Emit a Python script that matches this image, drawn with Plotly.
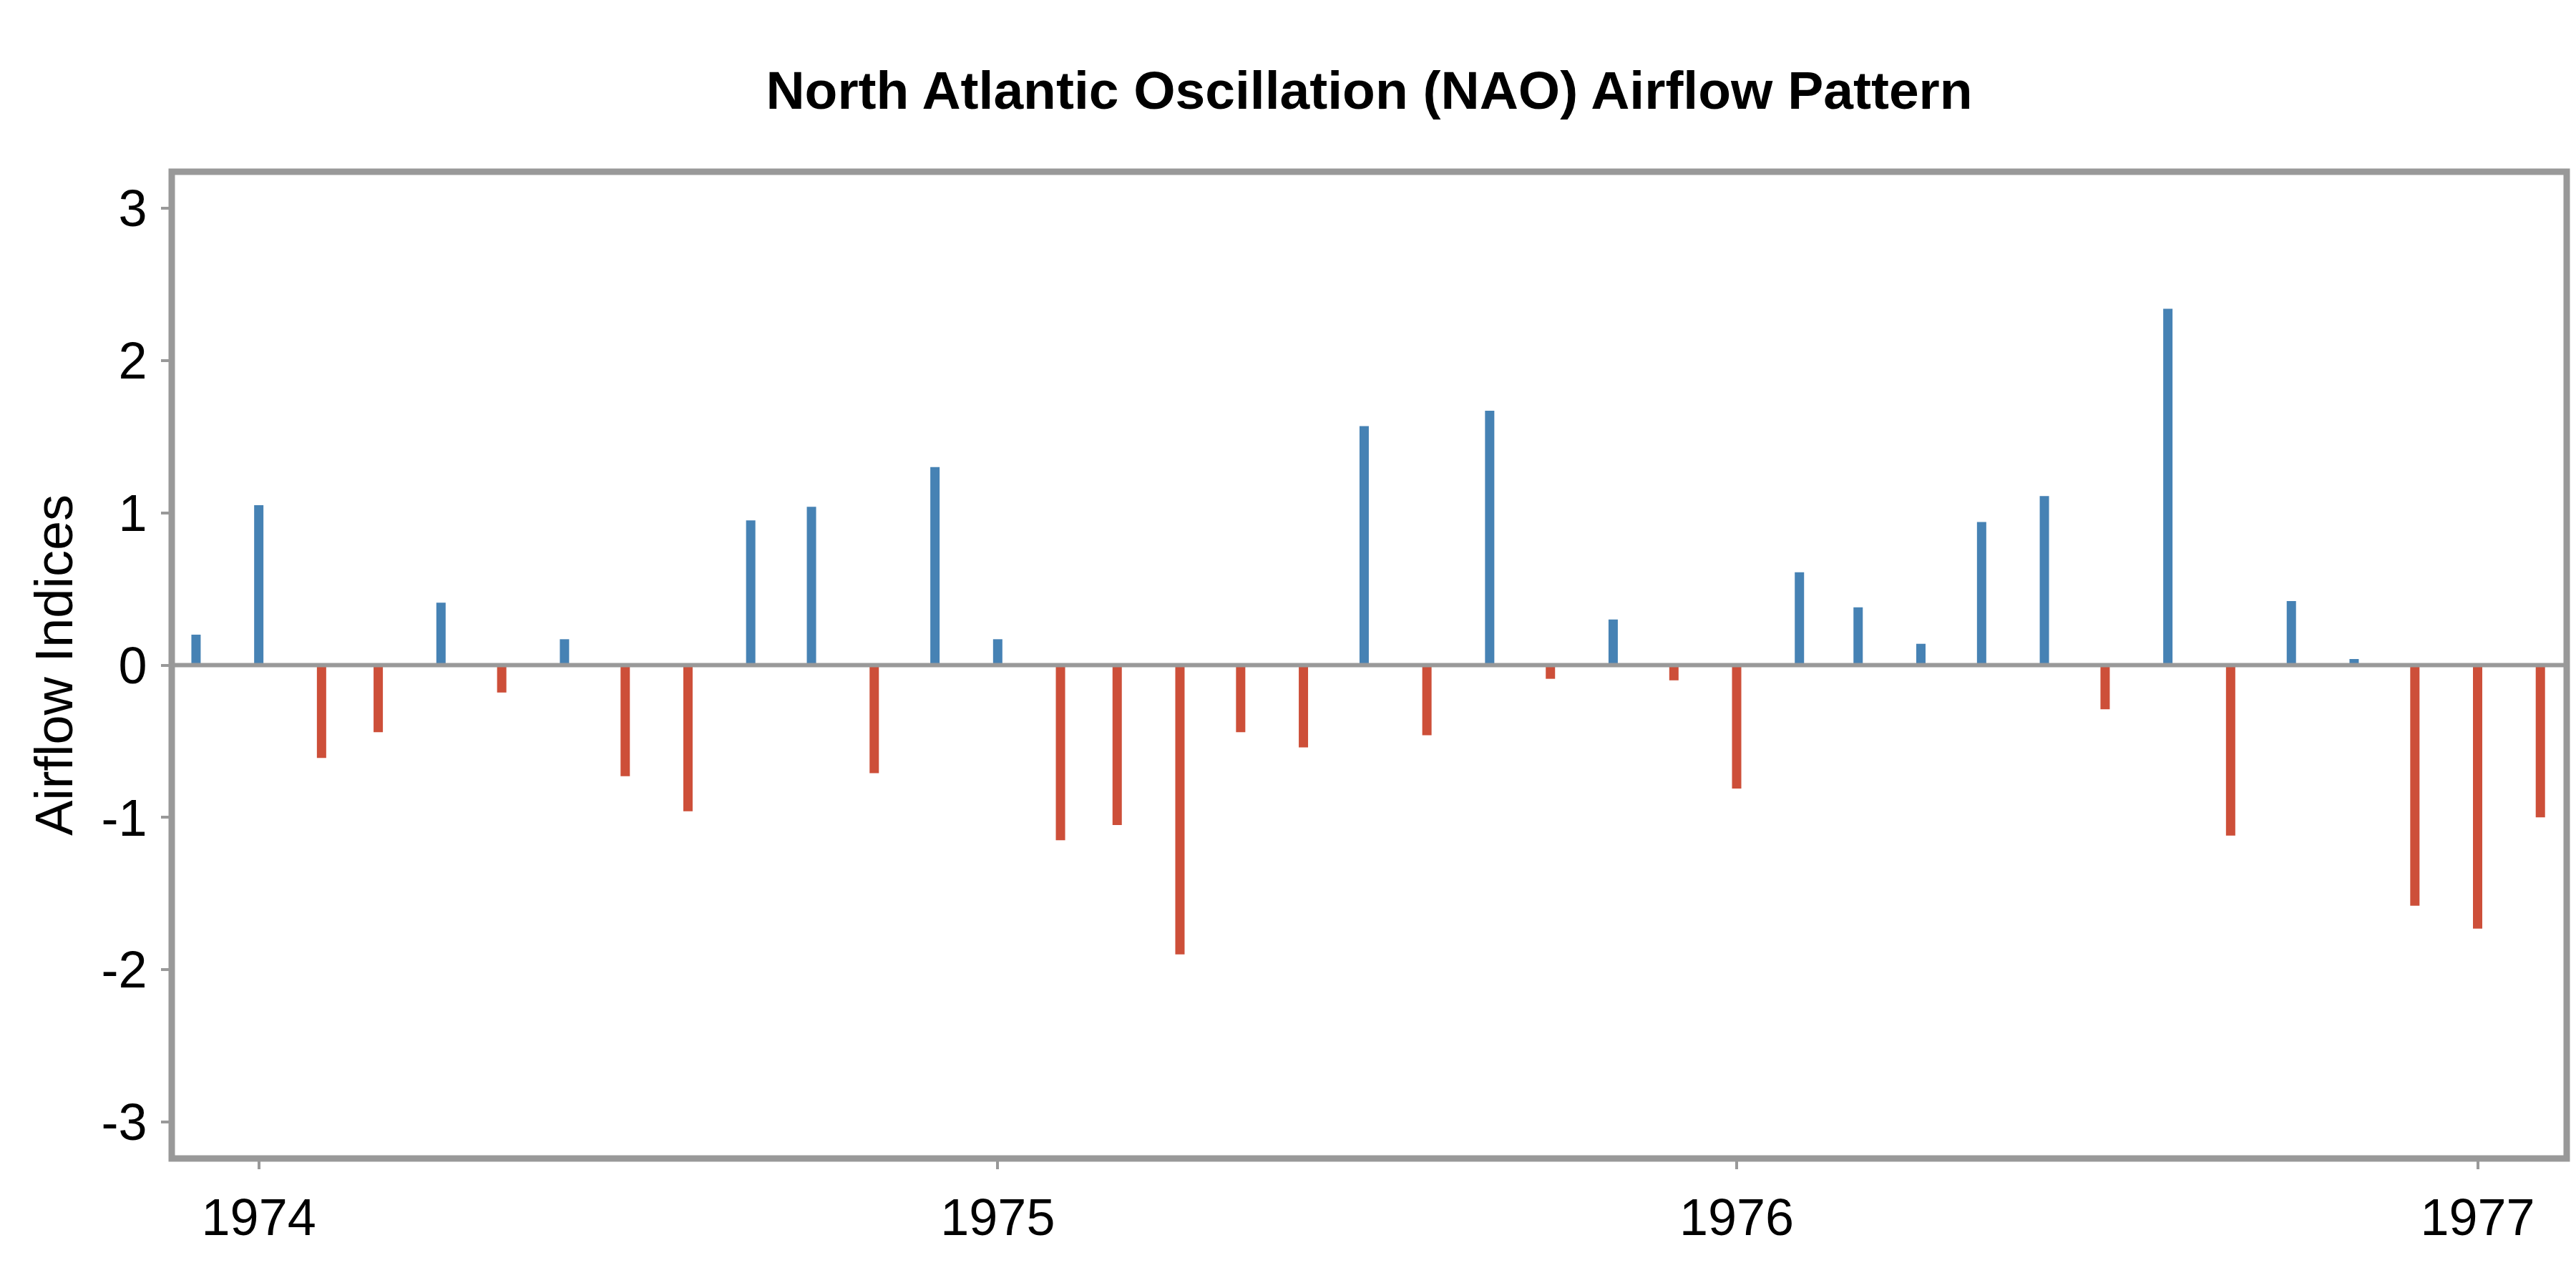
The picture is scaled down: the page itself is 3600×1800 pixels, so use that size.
import plotly.graph_objects as go

# ---- data ----
months = [
    "1973-12-01",
    "1974-01-01", "1974-02-01", "1974-03-01", "1974-04-01", "1974-05-01", "1974-06-01",
    "1974-07-01", "1974-08-01", "1974-09-01", "1974-10-01", "1974-11-01", "1974-12-01",
    "1975-01-01", "1975-02-01", "1975-03-01", "1975-04-01", "1975-05-01", "1975-06-01",
    "1975-07-01", "1975-08-01", "1975-09-01", "1975-10-01", "1975-11-01", "1975-12-01",
    "1976-01-01", "1976-02-01", "1976-03-01", "1976-04-01", "1976-05-01", "1976-06-01",
    "1976-07-01", "1976-08-01", "1976-09-01", "1976-10-01", "1976-11-01", "1976-12-01",
    "1977-01-01", "1977-02-01",
]
nao_values = [
    0.20,
    1.05, -0.61, -0.44, 0.41, -0.18, 0.17,
    -0.73, -0.96, 0.95, 1.04, -0.71, 1.30,
    0.17, -1.15, -1.05, -1.90, -0.44, -0.54,
    1.57, -0.46, 1.67, -0.09, 0.30, -0.10,
    -0.81, 0.61, 0.38, 0.14, 0.94, 1.11,
    -0.29, 2.34, -1.12, 0.42, 0.04, -1.58,
    -1.73, -1.00,
]
x_tick_vals = ["1974-01-01", "1975-01-01", "1976-01-01", "1977-01-01"]
x_tick_text = ["1974", "1975", "1976", "1977"]
y_tick_vals = [-3, -2, -1, 0, 1, 2, 3]
y_tick_text = ["-3", "-2", "-1", "0", "1", "2", "3"]

POS_COLOR = "#4682B4"
NEG_COLOR = "#CD4F39"
FRAME = "#999999"
FONT = "Liberation Sans, Arial, sans-serif"


def stems(sign):
    xs, ys = [], []
    for m, v in zip(months, nao_values):
        if (v >= 0) == (sign > 0):
            xs += [m, m, None]
            ys += [0, v, None]
    return xs, ys


fig = go.Figure()
for sign, color in ((1, POS_COLOR), (-1, NEG_COLOR)):
    xs, ys = stems(sign)
    fig.add_trace(go.Scatter(x=xs, y=ys, mode="lines",
                             line=dict(color=color, width=13),
                             hoverinfo="skip", showlegend=False))

fig.update_layout(
    width=3600, height=1800,
    margin=dict(l=232, r=21, t=232, b=189),
    paper_bgcolor="white", plot_bgcolor="white",
    font=dict(family=FONT, color="black"),
    title=dict(text="<b>North Atlantic Oscillation (NAO) Airflow Pattern</b>",
               font=dict(size=75, family=FONT, color="black"),
               x=0.5, xref="paper", xanchor="center",
               y=1 - 118 / 1800, yref="container", yanchor="middle"),
    showlegend=False,
    shapes=[
        dict(type="line", xref="paper", yref="y", x0=0, x1=1, y0=0, y1=0,
             line=dict(color=FRAME, width=6), layer="above"),
        dict(type="rect", xref="paper", yref="paper", x0=0, x1=1, y0=0, y1=1,
             line=dict(color=FRAME, width=9), layer="above"),
    ],
)
fig.update_xaxes(
    type="date", range=["1973-11-19", "1977-02-14"],
    showgrid=False, zeroline=False, showline=False,
    ticks="outside", ticklen=14, tickwidth=4, tickcolor=FRAME,
    tickvals=x_tick_vals, ticktext=x_tick_text, ticklabelstandoff=6,
    tickfont=dict(size=72, family=FONT, color="black"),
)
fig.update_yaxes(
    range=[-3.24, 3.24],
    showgrid=False, zeroline=False, showline=False,
    ticks="outside", ticklen=14, tickwidth=4, tickcolor=FRAME,
    tickvals=y_tick_vals, ticktext=y_tick_text, ticklabelstandoff=5,
    tickfont=dict(size=72, family=FONT, color="black"),
    title=dict(text="Airflow Indices", font=dict(size=74, family=FONT, color="black"),
               standoff=15),
)

fig.write_html("out.html")
